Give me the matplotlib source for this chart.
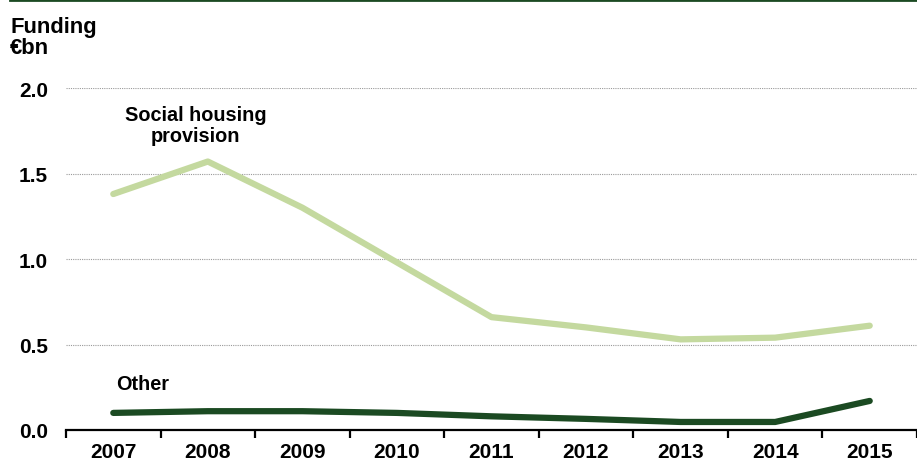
"""
Funding for social housing provision vs other, 2007-2015 (EUR bn)
"""
import matplotlib.pyplot as plt
from matplotlib.lines import Line2D

years = ["2007", "2008", "2009", "2010", "2011", "2012", "2013", "2014", "2015"]
social_housing = [1.38, 1.57, 1.30, 0.98, 0.66, 0.60, 0.53, 0.54, 0.61]
other = [0.10, 0.11, 0.11, 0.10, 0.08, 0.065, 0.047, 0.047, 0.17]
y_ticks = [0.0, 0.5, 1.0, 1.5, 2.0]

LIGHT = "#c4d99f"
DARK = "#1b4a22"


def main():
    plt.rcParams["font.family"] = ["Liberation Sans", "DejaVu Sans"]
    plt.rcParams["font.weight"] = "bold"

    fig = plt.figure(figsize=(9.17, 4.64), dpi=100)
    ax = fig.add_axes([66 / 917, 1 - 431 / 464, 1 - 66 / 917, (431 - 89) / 464])

    x = range(len(years))
    ax.plot(x, social_housing, color=LIGHT, lw=4.5, solid_capstyle="round",
            solid_joinstyle="round", zorder=3)
    ax.plot(x, other, color=DARK, lw=4.5, solid_capstyle="round",
            solid_joinstyle="round", zorder=3)

    ax.set_xlim(-0.5, 8.35)
    ax.set_ylim(0, 2.0)

    # --- axes styling ---
    for side in ["left", "right", "top"]:
        ax.spines[side].set_visible(False)
    ax.spines["bottom"].set_linewidth(1.6)
    ax.spines["bottom"].set_color("black")

    ax.set_xticks(list(x))
    ax.set_xticklabels(years, fontsize=15, fontweight="bold")
    ax.set_xticks([i - 0.5 for i in range(len(years) + 1)], minor=True)
    ax.tick_params(axis="x", which="major", length=0, pad=9)
    ax.tick_params(axis="x", which="minor", length=6, width=1.6, color="black")

    ax.set_yticks(y_ticks)
    ax.set_yticklabels([f"{v:.1f}" for v in y_ticks], fontsize=15, fontweight="bold")
    ax.tick_params(axis="y", length=0, pad=13)
    ax.yaxis.grid(True, color="#9a9a9a", linestyle=(0, (1, 1)), linewidth=0.8)
    ax.set_axisbelow(True)

    # --- labels ---
    ax.text(0.87, 1.785, "Social housing\nprovision", ha="center", va="center",
            fontsize=14.3, fontweight="bold", linespacing=1.1)
    ax.text(0.31, 0.27, "Other", ha="center", va="center",
            fontsize=14.3, fontweight="bold")

    fig.text(10 / 917, 1 - 28 / 464, "Funding", fontsize=15.8, fontweight="bold",
             va="center", ha="left")
    fig.text(10 / 917, 1 - 49 / 464, "€bn", fontsize=15.8, fontweight="bold",
             va="center", ha="left")

    # top rule
    fig.add_artist(Line2D([10 / 917, 1.0], [1 - 1 / 464, 1 - 1 / 464],
                          color=DARK, lw=2, transform=fig.transFigure))

    fig.savefig("out.png", dpi=100)
    plt.close(fig)


if __name__ == "__main__":
    main()
